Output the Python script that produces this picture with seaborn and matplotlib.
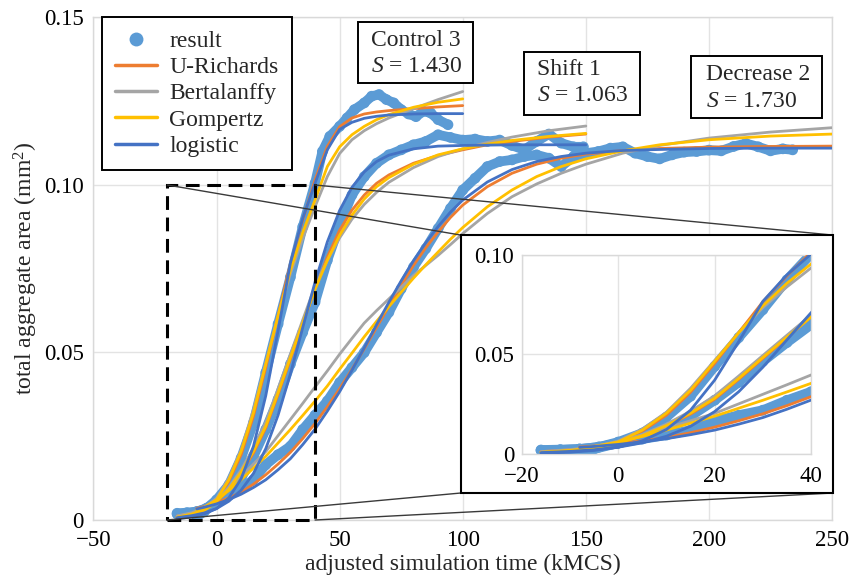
import numpy as np
import pandas as pd
import matplotlib
matplotlib.use("Agg")
import matplotlib.pyplot as plt
import seaborn as sns
from matplotlib.patches import Rectangle, ConnectionPatch
from matplotlib.lines import Line2D

# ---------------- data ----------------
model_names = ["U-Richards", "Bertalanffy", "Gompertz", "logistic"]
model_colors = ["#ED7D31", "#A5A5A5", "#FFC000", "#4472C4"]
data_label = "result"
data_color = "#5B9BD5"

box_titles = ["Control 3", "Shift 1", "Decrease 2"]
box_s_values = ["1.430", "1.063", "1.730"]

# Control 3
control_fit_t = [-16, -10, -5, 0, 5, 10, 15, 20, 25, 30, 35, 40, 45, 50, 55, 60, 65, 70, 80, 90, 100]
control_richards = [0.001, 0.002, 0.0032, 0.006, 0.0115, 0.0195, 0.031, 0.0455, 0.061, 0.0765, 0.0895, 0.1015,
                    0.1115, 0.1174, 0.1200, 0.1212, 0.1218, 0.1222, 0.1228, 0.1233, 0.1237]
control_bertalanffy = [0.0012, 0.0022, 0.0036, 0.0065, 0.0125, 0.021, 0.033, 0.047, 0.061, 0.0735, 0.084, 0.0935,
                       0.1025, 0.1094, 0.1135, 0.1162, 0.1183, 0.1200, 0.1228, 0.1255, 0.1279]
control_gompertz = [0.0008, 0.0018, 0.0031, 0.006, 0.012, 0.0205, 0.032, 0.0465, 0.061, 0.0745, 0.0858, 0.0955,
                    0.1055, 0.1114, 0.1150, 0.1175, 0.1195, 0.1210, 0.1232, 0.1247, 0.1257]
control_logistic = [0.0004, 0.0009, 0.0018, 0.0034, 0.0066, 0.0123, 0.022, 0.0371, 0.0565, 0.0767, 0.090, 0.1005,
                    0.1105, 0.1166, 0.1187, 0.1199, 0.1205, 0.1209, 0.1212, 0.1213, 0.1213]
control_data_t = [-16, -12, -8, -4, 0, 5, 10, 15, 20, 25, 30, 35, 40, 43, 46, 50, 53, 56, 60, 63, 66, 69,
                  72, 75, 78, 81, 84, 87, 90, 94]
control_data = [0.0018, 0.002, 0.0025, 0.0035, 0.006, 0.0105, 0.0185, 0.029, 0.044, 0.0585, 0.0725, 0.0875,
                0.1005, 0.110, 0.1145, 0.1175, 0.120, 0.1225, 0.1245, 0.1265, 0.127, 0.1255, 0.1245, 0.1225,
                0.1212, 0.1204, 0.122, 0.1215, 0.1195, 0.118]

# Shift 1
shift_fit_t = [-16, -10, -5, 0, 5, 10, 15, 20, 25, 30, 35, 40, 45, 50, 55, 60, 65, 70, 80, 90, 100, 110, 120, 135, 150]
shift_richards = [0.0012, 0.002, 0.0032, 0.0055, 0.009, 0.014, 0.020, 0.0275, 0.0375, 0.048, 0.0585, 0.069,
                  0.0785, 0.0865, 0.0925, 0.097, 0.1005, 0.103, 0.1065, 0.1088, 0.1105, 0.112, 0.113, 0.1143, 0.1152]
shift_bertalanffy = [0.001, 0.0018, 0.0032, 0.006, 0.0098, 0.015, 0.0215, 0.0292, 0.0392, 0.0495, 0.0597, 0.0698,
                     0.0775, 0.0842, 0.0898, 0.0942, 0.0978, 0.1008, 0.1052, 0.1085, 0.1108, 0.1127, 0.1143, 0.1162, 0.1176]
shift_gompertz = [0.0008, 0.0016, 0.0028, 0.0055, 0.0092, 0.0143, 0.0205, 0.028, 0.038, 0.0485, 0.0588, 0.0688,
                  0.0775, 0.085, 0.091, 0.0958, 0.0995, 0.1022, 0.1062, 0.109, 0.1108, 0.1122, 0.1133, 0.1145, 0.1154]
shift_logistic = [0.0007, 0.0013, 0.0021, 0.0034, 0.0056, 0.0089, 0.0139, 0.0213, 0.0313, 0.0436, 0.0574, 0.071,
                  0.083, 0.0924, 0.0993, 0.1039, 0.107, 0.1089, 0.1108, 0.1116, 0.1118, 0.1119, 0.112, 0.112, 0.112]
shift_data_t = [-16, -12, -8, -4, 0, 5, 10, 15, 20, 25, 30, 35, 40, 45, 50, 55, 60, 65, 70, 75, 80, 85, 90,
                95, 100, 105, 110, 115, 120, 125, 130, 135, 140, 145, 149]
shift_data = [0.002, 0.0022, 0.0025, 0.0035, 0.0055, 0.008, 0.0125, 0.019, 0.027, 0.036, 0.0465, 0.056, 0.065,
              0.0775, 0.088, 0.097, 0.1025, 0.1065, 0.109, 0.1105, 0.112, 0.113, 0.115, 0.1142, 0.1134, 0.1137,
              0.113, 0.1134, 0.1118, 0.1105, 0.113, 0.1152, 0.1125, 0.1114, 0.1114]

# Decrease 2
decrease_fit_t = [-8, -5, 0, 5, 10, 15, 20, 25, 30, 35, 40, 45, 50, 55, 60, 65, 70, 75, 80, 85, 90, 95, 100,
                  110, 120, 130, 140, 150, 165, 180, 200, 225, 250]
decrease_richards = [0.0035, 0.004, 0.0052, 0.0066, 0.0083, 0.0107, 0.0135, 0.0167, 0.0202, 0.0243, 0.0288,
                     0.0338, 0.0392, 0.045, 0.0511, 0.0575, 0.0638, 0.070, 0.076, 0.0813, 0.086, 0.0903, 0.094,
                     0.0995, 0.1035, 0.1062, 0.108, 0.1092, 0.1103, 0.1109, 0.1113, 0.1115, 0.1116]
decrease_bertalanffy = [0.0028, 0.0038, 0.0062, 0.0095, 0.013, 0.0167, 0.0204, 0.0252, 0.030, 0.0348, 0.0397,
                        0.0445, 0.0495, 0.0542, 0.0588, 0.0625, 0.066, 0.0695, 0.073, 0.076, 0.079, 0.0822, 0.0855,
                        0.0915, 0.0965, 0.1003, 0.1035, 0.1062, 0.1095, 0.1118, 0.114, 0.1158, 0.1171]
decrease_gompertz = [0.003, 0.0038, 0.006, 0.0088, 0.012, 0.0155, 0.019, 0.023, 0.027, 0.0312, 0.0355, 0.040,
                     0.045, 0.0498, 0.0547, 0.0593, 0.0637, 0.068, 0.0722, 0.0762, 0.080, 0.0838, 0.0873, 0.0935,
                     0.0985, 0.1025, 0.1055, 0.1078, 0.1102, 0.112, 0.1135, 0.1146, 0.1152]
decrease_logistic = [0.0033, 0.0038, 0.0048, 0.0061, 0.0077, 0.0097, 0.012, 0.015, 0.0183, 0.0225, 0.0271,
                     0.0325, 0.0383, 0.0447, 0.0514, 0.0583, 0.065, 0.0714, 0.0774, 0.0828, 0.0876, 0.0919, 0.0955,
                     0.1009, 0.1046, 0.107, 0.1085, 0.1095, 0.1103, 0.1106, 0.1109, 0.111, 0.111]
decrease_data_t = [-8, -5, 0, 5, 10, 15, 20, 25, 30, 35, 40, 45, 50, 55, 60, 65, 70, 75, 80, 85, 90, 95, 100,
                   105, 110, 115, 120, 125, 130, 135, 140, 145, 150, 155, 160, 165, 170, 175, 180, 185, 190, 195,
                   200, 205, 210, 215, 220, 225, 230, 234]
decrease_data = [0.001, 0.0025, 0.0055, 0.0075, 0.0095, 0.012, 0.0165, 0.0195, 0.022, 0.027, 0.0313, 0.0355,
                 0.041, 0.0455, 0.050, 0.056, 0.062, 0.069, 0.0755, 0.081, 0.087, 0.093, 0.0985, 0.102, 0.1055,
                 0.107, 0.1075, 0.1085, 0.109, 0.108, 0.1055, 0.1085, 0.1095, 0.110, 0.111, 0.1114, 0.1095, 0.1085,
                 0.1078, 0.109, 0.1098, 0.110, 0.1104, 0.1102, 0.1115, 0.1124, 0.1114, 0.1102, 0.1108, 0.1105]

x_ticks = [-50, 0, 50, 100, 150, 200, 250]
x_tick_labels = ["\u221250", "0", "50", "100", "150", "200", "250"]
y_ticks = [0, 0.05, 0.10, 0.15]
y_tick_labels = ["0", "0.05", "0.10", "0.15"]
inset_x_ticks = [-20, 0, 20, 40]
inset_x_tick_labels = ["\u221220", "0", "20", "40"]
inset_y_ticks = [0, 0.05, 0.10]
inset_y_tick_labels = ["0", "0.05", "0.10"]
zoom_x = [-20, 40]
zoom_y = [0, 0.10]

# ---------------- tidy tables ----------------
fit_sets = [
    ("Control 3", control_fit_t, [control_richards, control_bertalanffy, control_gompertz, control_logistic]),
    ("Shift 1", shift_fit_t, [shift_richards, shift_bertalanffy, shift_gompertz, shift_logistic]),
    ("Decrease 2", decrease_fit_t, [decrease_richards, decrease_bertalanffy, decrease_gompertz, decrease_logistic]),
]
rows = []
for ds, tt, curves in fit_sets:
    for m, vals in zip(model_names, curves):
        for t, v in zip(tt, vals):
            rows.append((ds, m, t, v))
fits = pd.DataFrame(rows, columns=["dataset", "model", "t", "v"])

res_rows = []
for ds, tt, vals in [("Control 3", control_data_t, control_data),
                     ("Shift 1", shift_data_t, shift_data),
                     ("Decrease 2", decrease_data_t, decrease_data)]:
    for t, v in zip(tt, vals):
        res_rows.append((ds, t, v))
results = pd.DataFrame(res_rows, columns=["dataset", "t", "v"])

# ---------------- style ----------------
sns.set_theme(style="whitegrid")
plt.rcParams["font.family"] = ["Liberation Serif", "DejaVu Serif"]
plt.rcParams["mathtext.fontset"] = "custom"
plt.rcParams["mathtext.rm"] = "Liberation Serif"
plt.rcParams["mathtext.it"] = "Liberation Serif:italic"
plt.rcParams["axes.unicode_minus"] = True

GRID_C = "#E3E3E3"
SPINE_C = "#D9D9D9"
FS = 16.5


def draw_series(a):
    sns.lineplot(data=results, x="t", y="v", units="dataset", estimator=None, sort=False,
                 color=data_color, lw=7, legend=False, ax=a, zorder=2, solid_capstyle="round")
    sns.scatterplot(data=results, x="t", y="v", color=data_color, s=60, edgecolor="none",
                    legend=False, ax=a, zorder=2)
    for m, c in zip(model_names, model_colors):
        sub = fits[fits["model"] == m]
        sns.lineplot(data=sub, x="t", y="v", units="dataset", estimator=None, sort=False,
                     color=c, lw=2.0, legend=False, ax=a, zorder=3)


def style_axes(a, xt, xtl, yt, ytl, xpad, ypad):
    a.set_facecolor("white")
    a.grid(True, color=GRID_C, lw=1.0)
    for s in a.spines.values():
        s.set_color(SPINE_C)
        s.set_linewidth(1.0)
    a.set_xticks(xt)
    a.set_xticklabels(xtl)
    a.set_yticks(yt)
    a.set_yticklabels(ytl)
    a.tick_params(axis="x", length=0, pad=xpad, labelsize=FS, colors="black")
    a.tick_params(axis="y", length=0, pad=ypad, labelsize=FS, colors="black")


fig = plt.figure(figsize=(8.5, 5.79), dpi=100)
fig.patch.set_facecolor("white")
ax = fig.add_axes([0.1099, 0.1019, 0.869, 0.8679])
draw_series(ax)
ax.set_xlim(-50, 250)
ax.set_ylim(0, 0.15)
style_axes(ax, x_ticks, x_tick_labels, y_ticks, y_tick_labels, 7.5, 7.0)
ax.set_xlabel("adjusted simulation time (kMCS)", fontsize=17, labelpad=2)
ax.set_ylabel("total aggregate area (mm$^2$)", fontsize=17, labelpad=3)

# dashed zoom rectangle
ax.add_patch(Rectangle((zoom_x[0], zoom_y[0]), zoom_x[1] - zoom_x[0], zoom_y[1] - zoom_y[0],
                       fill=False, ec="black", lw=2.2, ls=(0, (4.5, 2.5)), zorder=6, clip_on=False))

# legend
handles = [Line2D([], [], marker="o", ls="", color=data_color, markersize=10, markeredgewidth=0)]
handles += [Line2D([], [], color=c, lw=2.5) for c in model_colors]
leg = ax.legend(handles, [data_label] + model_names, loc="upper left", bbox_to_anchor=(0.0116, 1.0),
                borderaxespad=0, fontsize=17, frameon=True, fancybox=False, framealpha=1,
                edgecolor="black", handlelength=1.8, handletextpad=0.5, labelspacing=0.2,
                borderpad=0.55)
leg.get_frame().set_linewidth(1.4)
leg.set_zorder(7)

# annotation boxes (axes fraction)
box_rects = [(0.3582, 0.8697, 0.1557, 0.1213), (0.5829, 0.8060, 0.1571, 0.1253), (0.8091, 0.8000, 0.1773, 0.1234)]
text_pos = [(0.3754, 0.9284), (0.6010, 0.8706), (0.8294, 0.8600)]
for (bx, by, bw, bh), (tx, ty), title, sv in zip(box_rects, text_pos, box_titles, box_s_values):
    ax.add_patch(Rectangle((bx, by), bw, bh, transform=ax.transAxes, fc="white", ec="black",
                           lw=1.4, zorder=7, clip_on=False))
    ax.text(tx, ty, f"{title}\n$S$ = {sv}", transform=ax.transAxes, ha="left", va="center",
            fontsize=17, zorder=8, linespacing=1.35)

# inset frame and connectors
bx0, by0, bx1, by1 = 0.542, 0.1485, 0.9796, 0.594
corners_main = [(zoom_x[0], zoom_y[1]), (zoom_x[1], zoom_y[1]), (zoom_x[0], zoom_y[0]), (zoom_x[1], zoom_y[0])]
corners_fig = [(bx0, by1), (bx1, by1), (bx0, by0), (bx1, by0)]
for cm, cf in zip(corners_main, corners_fig):
    con = ConnectionPatch(xyA=cm, coordsA=ax.transData, xyB=cf, coordsB=fig.transFigure,
                          color="#3A3A3A", lw=1.0, zorder=5)
    fig.add_artist(con)
fig.add_artist(Rectangle((bx0, by0), bx1 - bx0, by1 - by0, transform=fig.transFigure,
                         fc="white", ec="black", lw=1.5, zorder=6))

axin = fig.add_axes([0.6138, 0.2159, 0.3404, 0.3437])
axin.set_zorder(8)
draw_series(axin)
axin.set_xlim(zoom_x)
axin.set_ylim(zoom_y)
style_axes(axin, inset_x_ticks, inset_x_tick_labels, inset_y_ticks, inset_y_tick_labels, 8.5, 5.5)
axin.set_xlabel("")
axin.set_ylabel("")

fig.savefig("out.png", dpi=100, facecolor="white")
